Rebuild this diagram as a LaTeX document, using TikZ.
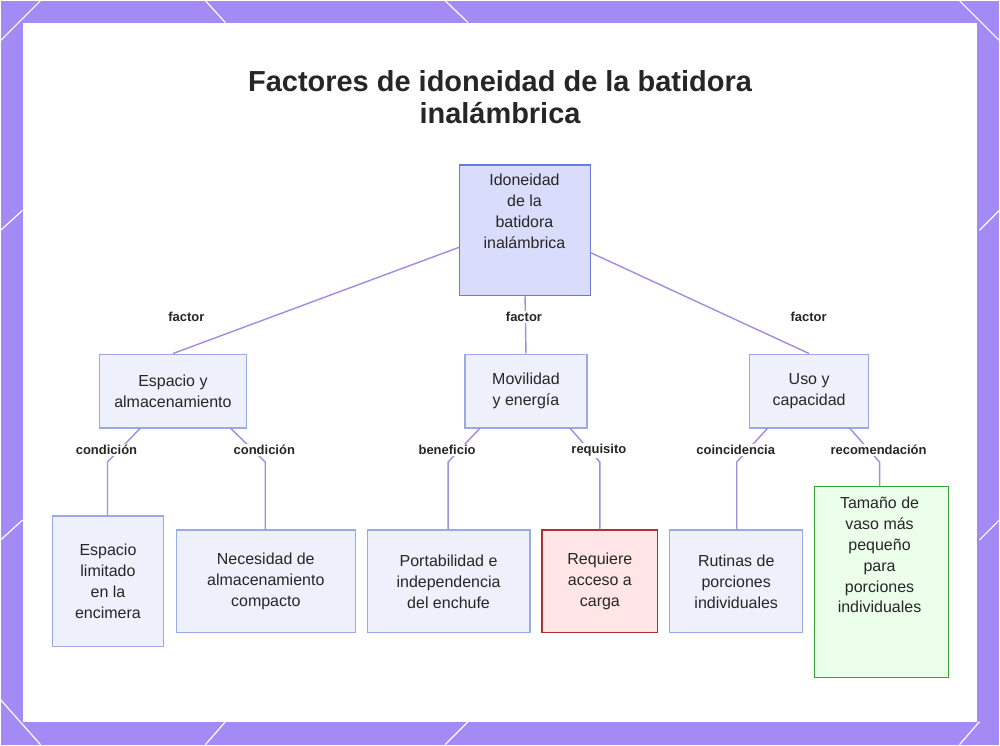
\documentclass[tikz,border=0pt]{standalone}
\usepackage{fontspec}
\setmainfont{Liberation Sans}
\begin{document}
\definecolor{bgp}{HTML}{A48AF5}
\definecolor{edge}{HTML}{A58BE0}
\definecolor{nfill}{HTML}{EEF0FC}
\definecolor{nline}{HTML}{9AAAE6}
\definecolor{rfill}{HTML}{D9DCFB}
\definecolor{rline}{HTML}{6B7BD0}
\begin{tikzpicture}[x=1pt,y=-1pt,
  box/.style={draw=nline,fill=nfill,line width=1.2pt,align=center,font=\fontsize{16}{21}\selectfont,text=black!85,inner sep=0pt},
  lab/.style={fill=white,inner sep=1.5pt,font=\bfseries\fontsize{13}{15}\selectfont,text=black!85},
  conn/.style={draw=edge,line width=1.4pt}]
\fill[bgp] (0,0) rectangle (1000,745);
\fill[white] (22,22) rectangle (978,722);
\foreach \a/\b/\c/\d in {0/40/40/0, 0/230/22/210, 0/540/22/520, 205/0/225/22, 445/0/468/22, 980/230/1000/210, 980/540/1000/520, 960/745/980/722, 205/745/225/722, 445/745/468/722, 0/700/40/745, 960/0/1000/40}
  \draw[white,line width=1.2pt] (\a,\b) -- (\c,\d);
\useasboundingbox (0,0) rectangle (1000,745);
\node[font=\bfseries\fontsize{29}{32}\selectfont,align=center,text=black!85] (title) at (500,97) {Factores de idoneidad de la batidora\\inalámbrica};
\node[box,draw=rline,fill=rfill,minimum width=131pt,minimum height=131pt,anchor=north west,text depth=0pt] (root) at (459,164) {};
\node[align=center,font=\fontsize{16}{21}\selectfont,text=black!85,anchor=north] at (524.5,170) {Idoneidad\\de la\\batidora\\inalámbrica};
\node[box,minimum width=147pt,minimum height=74pt] (esp) at (172.5,391) {Espacio y\\almacenamiento};
\node[box,minimum width=122pt,minimum height=74pt] (mov) at (526,391) {Movilidad\\y energía};
\node[box,minimum width=119pt,minimum height=74pt] (uso) at (809.5,391) {Uso y\\capacidad};
\node[box,minimum width=111pt,minimum height=131pt] (c1) at (107.5,581.5) {Espacio\\limitado\\en la\\encimera};
\node[box,minimum width=179pt,minimum height=103pt] (c2) at (265.5,581.5) {Necesidad de\\almacenamiento\\compacto};
\node[box,minimum width=163pt,minimum height=103pt] (c3) at (448.5,581.5) {Portabilidad e\\independencia\\del enchufe};
\node[box,draw=red!60!black!80,fill=red!10,minimum width=116pt,minimum height=103pt] (c4) at (600,581.5) {Requiere\\acceso a\\carga};
\node[box,minimum width=133pt,minimum height=103pt] (c5) at (736.5,581.5) {Rutinas de\\porciones\\individuales};
\node[box,draw=green!55!black!80,fill=green!8,minimum width=134pt,minimum height=191pt,anchor=north] (c6) at (882,486) {};
\node[align=center,font=\fontsize{16}{21}\selectfont,text=black!85,anchor=north] at (880,493) {Tamaño de\\vaso más\\pequeño\\para\\porciones\\individuales};
% edges
\coordinate (r1) at (459,247); \coordinate (r3) at (590,252);
\path[conn] (r1) -- (esp.north);
\path[conn] (root.south) -- (mov.north);
\path[conn] (r3) -- (uso.north);
\node[lab] at (186,317) {factor};
\node[lab] at (524,317) {factor};
\node[lab] at (809,317) {factor};
\foreach \p/\px/\lx/\c/\t in {esp/140/107/c1/condición, esp/230/265/c2/condición, mov/480/448/c3/beneficio, mov/570/600/c4/requisito, uso/768/737/c5/coincidencia, uso/850/880/c6/recomendación}{
  \coordinate (s) at (\px,428);
  \coordinate (m) at (\lx,462);
  \path[conn] (s) -- (m) -- (\c.north -| m);
  \node[lab] at (\lx-1,450) {\t};
}
\end{tikzpicture}
\end{document}
